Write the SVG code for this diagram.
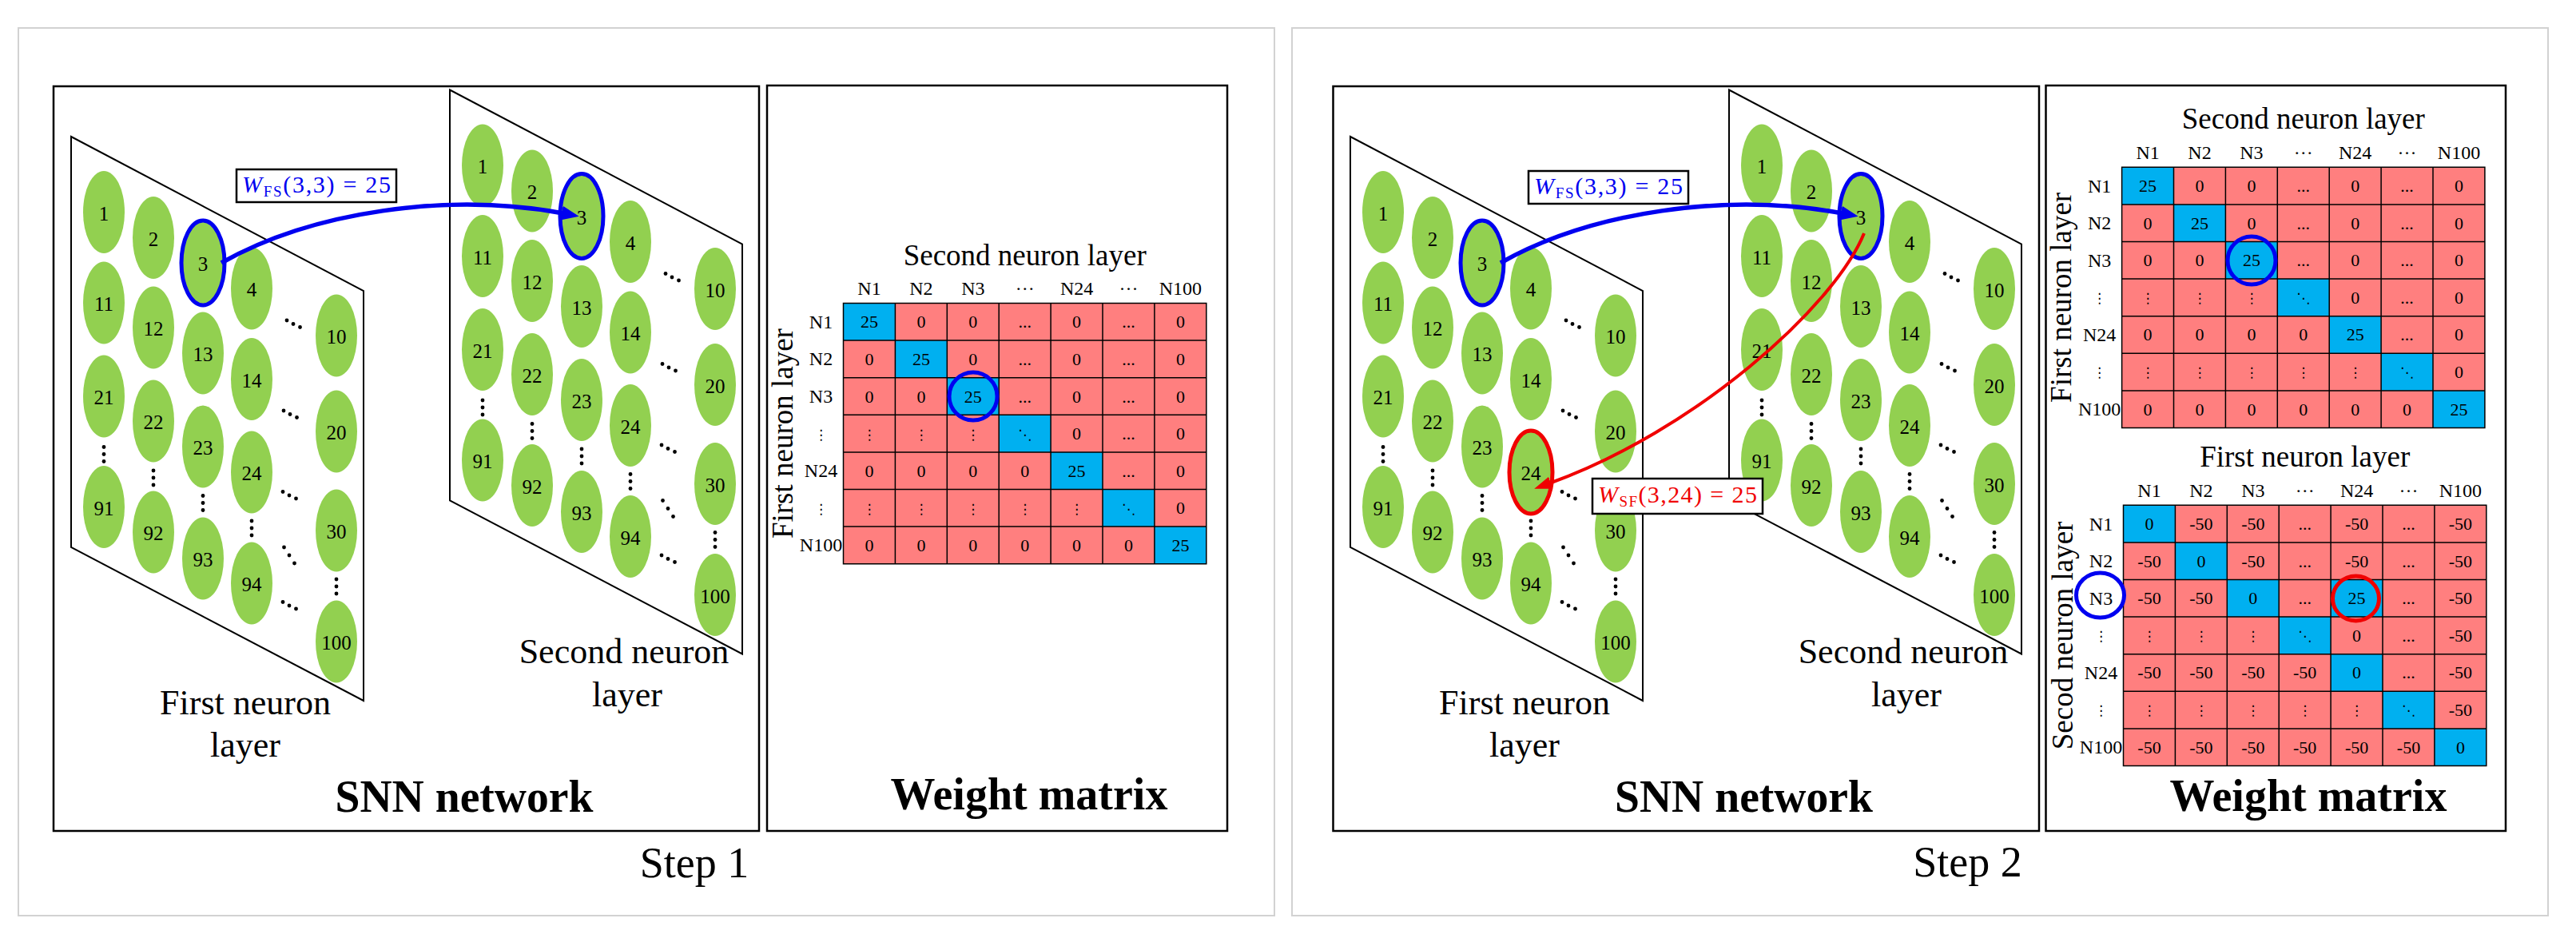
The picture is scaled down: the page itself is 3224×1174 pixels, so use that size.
<svg xmlns="http://www.w3.org/2000/svg" xmlns:xlink="http://www.w3.org/1999/xlink" width="3224" height="1174" viewBox="0 0 3224 1174">
<style>
.gray{fill:none;stroke:#d2d2d2;stroke-width:2}
.box{fill:#fff;stroke:#000;stroke-width:2.5}
.plane{fill:#fff;stroke:#000;stroke-width:2}
.n{fill:#92d050}
.nt{font-family:"Liberation Serif","Times New Roman",serif;font-size:25px;text-anchor:middle;fill:#000}
.lbl{font-family:"Liberation Serif","Times New Roman",serif;font-size:44px;text-anchor:middle}
.big{font-family:"Liberation Serif","Times New Roman",serif;font-size:56px;font-weight:bold;text-anchor:middle}
.step{font-family:"Liberation Serif","Times New Roman",serif;font-size:54px;text-anchor:middle}
.pk{fill:#ff7f7f}
.bl{fill:#00b0f0}
.grid{fill:none;stroke:#000;stroke-width:1.5}
.ct{font-family:"Liberation Serif","Times New Roman",serif;font-size:22px;text-anchor:middle}
.hd{font-family:"Liberation Serif","Times New Roman",serif;font-size:24px;text-anchor:middle}
.ttl{font-family:"Liberation Serif","Times New Roman",serif;font-size:37px;text-anchor:middle}
.dt{font-family:"DejaVu Sans",sans-serif;font-size:17px;text-anchor:middle}
.wl{font-family:"Liberation Serif","Times New Roman",serif;font-size:30px}
.hb{fill:none;stroke:#0000f0;stroke-width:5}
.hr{fill:none;stroke:#f00000;stroke-width:5}
.ab{fill:none;stroke:#0000f0;stroke-width:5.5}
.ar{fill:none;stroke:#f00000;stroke-width:4}
</style>
<defs>
<g id="vd"><circle cx="0" cy="-9" r="2.4"/><circle cx="0" cy="0" r="2.4"/><circle cx="0" cy="9" r="2.4"/></g>
<g id="dd"><circle cx="-8" cy="-4.5" r="2.4"/><circle cx="0" cy="0" r="2.4"/><circle cx="8.5" cy="4" r="2.4"/></g>
<g id="ds"><circle cx="-6.5" cy="-10" r="2.4"/><circle cx="0" cy="0" r="2.4"/><circle cx="6.5" cy="10" r="2.4"/></g>
<marker id="mb" markerUnits="userSpaceOnUse" markerWidth="26" markerHeight="20" refX="2" refY="9" orient="auto"><path d="M0,0 L22,9 L0,18 Z" fill="#0000f0"/></marker>
<marker id="mr" markerUnits="userSpaceOnUse" markerWidth="26" markerHeight="20" refX="2" refY="8" orient="auto"><path d="M0,0 L22,8 L0,16 Z" fill="#f00000"/></marker>
</defs>
<rect width="3224" height="1174" fill="#fff"/>

<!-- outer frames -->
<rect class="gray" x="23" y="35" width="1572" height="1111"/>
<rect class="gray" x="1617" y="35" width="1572" height="1111"/>

<!-- STEP 1 -->
<g id="s1-snn-box"><rect class="box" x="67" y="108" width="883" height="932"/></g>
<g id="s1-weight-box"><rect class="box" x="960" y="107" width="576" height="933"/></g>

<g id="s1-first-layer" transform="translate(89,171)">
<polygon class="plane" points="0,0 366,193 366,706 0,514"/>
<g id="p1-n1"><ellipse class="n" cx="41" cy="94.5" rx="26" ry="51.5"/><text class="nt" x="41" y="104.5">1</text></g>
<g id="p1-n11"><ellipse class="n" cx="41" cy="208" rx="26" ry="51.5"/><text class="nt" x="41" y="218">11</text></g>
<g id="p1-n21"><ellipse class="n" cx="41" cy="325" rx="26" ry="51.5"/><text class="nt" x="41" y="335">21</text></g>
<g id="p1-n91"><ellipse class="n" cx="41" cy="463.5" rx="26" ry="51.5"/><text class="nt" x="41" y="473.5">91</text></g>
<g id="p1-n2"><ellipse class="n" cx="103" cy="126.5" rx="26" ry="51.5"/><text class="nt" x="103" y="136.5">2</text></g>
<g id="p1-n12"><ellipse class="n" cx="103" cy="239" rx="26" ry="51.5"/><text class="nt" x="103" y="249">12</text></g>
<g id="p1-n22"><ellipse class="n" cx="103" cy="356" rx="26" ry="51.5"/><text class="nt" x="103" y="366">22</text></g>
<g id="p1-n92"><ellipse class="n" cx="103" cy="495" rx="26" ry="51.5"/><text class="nt" x="103" y="505">92</text></g>
<g id="p1-n3"><ellipse class="n" cx="165" cy="158" rx="26" ry="51.5"/><text class="nt" x="165" y="168">3</text></g>
<g id="p1-n13"><ellipse class="n" cx="165" cy="271" rx="26" ry="51.5"/><text class="nt" x="165" y="281">13</text></g>
<g id="p1-n23"><ellipse class="n" cx="165" cy="388" rx="26" ry="51.5"/><text class="nt" x="165" y="398">23</text></g>
<g id="p1-n93"><ellipse class="n" cx="165" cy="528" rx="26" ry="51.5"/><text class="nt" x="165" y="538">93</text></g>
<g id="p1-n4"><ellipse class="n" cx="226" cy="190" rx="26" ry="51.5"/><text class="nt" x="226" y="200">4</text></g>
<g id="p1-n14"><ellipse class="n" cx="226" cy="303.5" rx="26" ry="51.5"/><text class="nt" x="226" y="313.5">14</text></g>
<g id="p1-n24"><ellipse class="n" cx="226" cy="420" rx="26" ry="51.5"/><text class="nt" x="226" y="430">24</text></g>
<g id="p1-n94"><ellipse class="n" cx="226" cy="559" rx="26" ry="51.5"/><text class="nt" x="226" y="569">94</text></g>
<g id="p1-n10"><ellipse class="n" cx="332" cy="249" rx="26" ry="51.5"/><text class="nt" x="332" y="259">10</text></g>
<g id="p1-n20"><ellipse class="n" cx="332" cy="369" rx="26" ry="51.5"/><text class="nt" x="332" y="379">20</text></g>
<g id="p1-n30"><ellipse class="n" cx="332" cy="493" rx="26" ry="51.5"/><text class="nt" x="332" y="503">30</text></g>
<g id="p1-n100"><ellipse class="n" cx="332" cy="632" rx="26" ry="51.5"/><text class="nt" x="332" y="642">100</text></g>
<use href="#vd" x="41" y="397.5"/><use href="#vd" x="103" y="427"/><use href="#vd" x="165" y="458.5"/><use href="#vd" x="226" y="490"/><use href="#vd" x="332" y="563"/>
<use href="#dd" x="278" y="234.5"/><use href="#dd" x="274" y="347.5"/><use href="#dd" x="273" y="449"/><use href="#ds" x="273" y="524"/><use href="#dd" x="273" y="587"/>
</g>

<g id="s1-second-layer" transform="translate(563,112.5)">
<polygon class="plane" points="0,0 366,193 366,706 0,514"/>
<g id="p2-n1"><ellipse class="n" cx="41" cy="94.5" rx="26" ry="51.5"/><text class="nt" x="41" y="104.5">1</text></g>
<g id="p2-n11"><ellipse class="n" cx="41" cy="208" rx="26" ry="51.5"/><text class="nt" x="41" y="218">11</text></g>
<g id="p2-n21"><ellipse class="n" cx="41" cy="325" rx="26" ry="51.5"/><text class="nt" x="41" y="335">21</text></g>
<g id="p2-n91"><ellipse class="n" cx="41" cy="463.5" rx="26" ry="51.5"/><text class="nt" x="41" y="473.5">91</text></g>
<g id="p2-n2"><ellipse class="n" cx="103" cy="126.5" rx="26" ry="51.5"/><text class="nt" x="103" y="136.5">2</text></g>
<g id="p2-n12"><ellipse class="n" cx="103" cy="239" rx="26" ry="51.5"/><text class="nt" x="103" y="249">12</text></g>
<g id="p2-n22"><ellipse class="n" cx="103" cy="356" rx="26" ry="51.5"/><text class="nt" x="103" y="366">22</text></g>
<g id="p2-n92"><ellipse class="n" cx="103" cy="495" rx="26" ry="51.5"/><text class="nt" x="103" y="505">92</text></g>
<g id="p2-n3"><ellipse class="n" cx="165" cy="158" rx="26" ry="51.5"/><text class="nt" x="165" y="168">3</text></g>
<g id="p2-n13"><ellipse class="n" cx="165" cy="271" rx="26" ry="51.5"/><text class="nt" x="165" y="281">13</text></g>
<g id="p2-n23"><ellipse class="n" cx="165" cy="388" rx="26" ry="51.5"/><text class="nt" x="165" y="398">23</text></g>
<g id="p2-n93"><ellipse class="n" cx="165" cy="528" rx="26" ry="51.5"/><text class="nt" x="165" y="538">93</text></g>
<g id="p2-n4"><ellipse class="n" cx="226" cy="190" rx="26" ry="51.5"/><text class="nt" x="226" y="200">4</text></g>
<g id="p2-n14"><ellipse class="n" cx="226" cy="303.5" rx="26" ry="51.5"/><text class="nt" x="226" y="313.5">14</text></g>
<g id="p2-n24"><ellipse class="n" cx="226" cy="420" rx="26" ry="51.5"/><text class="nt" x="226" y="430">24</text></g>
<g id="p2-n94"><ellipse class="n" cx="226" cy="559" rx="26" ry="51.5"/><text class="nt" x="226" y="569">94</text></g>
<g id="p2-n10"><ellipse class="n" cx="332" cy="249" rx="26" ry="51.5"/><text class="nt" x="332" y="259">10</text></g>
<g id="p2-n20"><ellipse class="n" cx="332" cy="369" rx="26" ry="51.5"/><text class="nt" x="332" y="379">20</text></g>
<g id="p2-n30"><ellipse class="n" cx="332" cy="493" rx="26" ry="51.5"/><text class="nt" x="332" y="503">30</text></g>
<g id="p2-n100"><ellipse class="n" cx="332" cy="632" rx="26" ry="51.5"/><text class="nt" x="332" y="642">100</text></g>
<use href="#vd" x="41" y="397.5"/><use href="#vd" x="103" y="427"/><use href="#vd" x="165" y="458.5"/><use href="#vd" x="226" y="490"/><use href="#vd" x="332" y="563"/>
<use href="#dd" x="278" y="234.5"/><use href="#dd" x="274" y="347.5"/><use href="#dd" x="273" y="449"/><use href="#ds" x="273" y="524"/><use href="#dd" x="273" y="587"/>
</g>

<g id="s1-labels">
<text class="lbl" x="307" y="894">First neuron</text><text class="lbl" x="307" y="947">layer</text>
<text class="lbl" x="781" y="830">Second neuron</text><text class="lbl" x="785" y="884">layer</text>
<text class="big" x="581" y="1016" textLength="323" lengthAdjust="spacingAndGlyphs">SNN network</text>
<text class="big" x="1288" y="1013">Weight matrix</text>
<text class="step" x="869" y="1098">Step 1</text>
</g>

<g id="s1-matrix" transform="translate(1055.5,379.5)">
<rect class="pk" x="0" y="0" width="454.3" height="326.2"/>
<rect class="bl" x="0" y="0" width="64.9" height="46.6"/><rect class="bl" x="64.9" y="46.6" width="64.9" height="46.6"/><rect class="bl" x="129.8" y="93.2" width="64.9" height="46.6"/><rect class="bl" x="194.7" y="139.8" width="64.9" height="46.6"/><rect class="bl" x="259.6" y="186.4" width="64.9" height="46.6"/><rect class="bl" x="324.5" y="233" width="64.9" height="46.6"/><rect class="bl" x="389.4" y="279.6" width="64.9" height="46.6"/>
<path class="grid" d="M0,0H454.3V326.2H0Z M64.9,0V326.2 M129.8,0V326.2 M194.7,0V326.2 M259.6,0V326.2 M324.5,0V326.2 M389.4,0V326.2 M0,46.6H454.3 M0,93.2H454.3 M0,139.8H454.3 M0,186.4H454.3 M0,233H454.3 M0,279.6H454.3"/>
<text class="ttl" x="227.2" y="-48">Second neuron layer</text>
<text class="ttl" transform="translate(-63.5,163.1) rotate(-90)">First neuron layer</text>
<text class="hd" x="32.5" y="-10.5">N1</text><text class="hd" x="97.4" y="-10.5">N2</text><text class="hd" x="162.3" y="-10.5">N3</text><text class="hd" x="227.2" y="-10.5">···</text><text class="hd" x="292.1" y="-10.5">N24</text><text class="hd" x="357" y="-10.5">···</text><text class="hd" x="421.9" y="-10.5">N100</text>
<text class="hd" x="-28" y="31.3">N1</text><text class="hd" x="-28" y="77.9">N2</text><text class="hd" x="-28" y="124.5">N3</text><text class="dt" x="-28" y="170">⋮</text><text class="hd" x="-28" y="217.7">N24</text><text class="dt" x="-28" y="263">⋮</text><text class="hd" x="-28" y="310.9">N100</text>
<text class="ct" x="32.5" y="30.8">25</text><text class="ct" x="97.4" y="30.8">0</text><text class="ct" x="162.3" y="30.8">0</text><text class="ct" x="227.2" y="30.8">...</text><text class="ct" x="292.1" y="30.8">0</text><text class="ct" x="357" y="30.8">...</text><text class="ct" x="421.9" y="30.8">0</text>
<text class="ct" x="32.5" y="77.4">0</text><text class="ct" x="97.4" y="77.4">25</text><text class="ct" x="162.3" y="77.4">0</text><text class="ct" x="227.2" y="77.4">...</text><text class="ct" x="292.1" y="77.4">0</text><text class="ct" x="357" y="77.4">...</text><text class="ct" x="421.9" y="77.4">0</text>
<text class="ct" x="32.5" y="124">0</text><text class="ct" x="97.4" y="124">0</text><text class="ct" x="162.3" y="124">25</text><text class="ct" x="227.2" y="124">...</text><text class="ct" x="292.1" y="124">0</text><text class="ct" x="357" y="124">...</text><text class="ct" x="421.9" y="124">0</text>
<text class="dt" x="32.5" y="170">⋮</text><text class="dt" x="97.4" y="170">⋮</text><text class="dt" x="162.3" y="170">⋮</text><text class="dt" x="227.2" y="170">⋱</text><text class="ct" x="292.1" y="170.6">0</text><text class="ct" x="357" y="170.6">...</text><text class="ct" x="421.9" y="170.6">0</text>
<text class="ct" x="32.5" y="217.2">0</text><text class="ct" x="97.4" y="217.2">0</text><text class="ct" x="162.3" y="217.2">0</text><text class="ct" x="227.2" y="217.2">0</text><text class="ct" x="292.1" y="217.2">25</text><text class="ct" x="357" y="217.2">...</text><text class="ct" x="421.9" y="217.2">0</text>
<text class="dt" x="32.5" y="263">⋮</text><text class="dt" x="97.4" y="263">⋮</text><text class="dt" x="162.3" y="263">⋮</text><text class="dt" x="227.2" y="263">⋮</text><text class="dt" x="292.1" y="263">⋮</text><text class="dt" x="357" y="263">⋱</text><text class="ct" x="421.9" y="263.8">0</text>
<text class="ct" x="32.5" y="310.4">0</text><text class="ct" x="97.4" y="310.4">0</text><text class="ct" x="162.3" y="310.4">0</text><text class="ct" x="227.2" y="310.4">0</text><text class="ct" x="292.1" y="310.4">0</text><text class="ct" x="357" y="310.4">0</text><text class="ct" x="421.9" y="310.4">25</text>
<circle class="hb" cx="162.5" cy="116.5" r="30"/>
</g>

<!-- STEP 2 -->
<g id="s2-snn-box"><rect class="box" x="1668.5" y="108" width="883.5" height="932"/></g>
<g id="s2-weight-box"><rect class="box" x="2560.5" y="107" width="575.5" height="933"/></g>

<g id="s2-first-layer" transform="translate(1690,171)">
<polygon class="plane" points="0,0 366,193 366,706 0,514"/>
<g id="p3-n1"><ellipse class="n" cx="41" cy="94.5" rx="26" ry="51.5"/><text class="nt" x="41" y="104.5">1</text></g>
<g id="p3-n11"><ellipse class="n" cx="41" cy="208" rx="26" ry="51.5"/><text class="nt" x="41" y="218">11</text></g>
<g id="p3-n21"><ellipse class="n" cx="41" cy="325" rx="26" ry="51.5"/><text class="nt" x="41" y="335">21</text></g>
<g id="p3-n91"><ellipse class="n" cx="41" cy="463.5" rx="26" ry="51.5"/><text class="nt" x="41" y="473.5">91</text></g>
<g id="p3-n2"><ellipse class="n" cx="103" cy="126.5" rx="26" ry="51.5"/><text class="nt" x="103" y="136.5">2</text></g>
<g id="p3-n12"><ellipse class="n" cx="103" cy="239" rx="26" ry="51.5"/><text class="nt" x="103" y="249">12</text></g>
<g id="p3-n22"><ellipse class="n" cx="103" cy="356" rx="26" ry="51.5"/><text class="nt" x="103" y="366">22</text></g>
<g id="p3-n92"><ellipse class="n" cx="103" cy="495" rx="26" ry="51.5"/><text class="nt" x="103" y="505">92</text></g>
<g id="p3-n3"><ellipse class="n" cx="165" cy="158" rx="26" ry="51.5"/><text class="nt" x="165" y="168">3</text></g>
<g id="p3-n13"><ellipse class="n" cx="165" cy="271" rx="26" ry="51.5"/><text class="nt" x="165" y="281">13</text></g>
<g id="p3-n23"><ellipse class="n" cx="165" cy="388" rx="26" ry="51.5"/><text class="nt" x="165" y="398">23</text></g>
<g id="p3-n93"><ellipse class="n" cx="165" cy="528" rx="26" ry="51.5"/><text class="nt" x="165" y="538">93</text></g>
<g id="p3-n4"><ellipse class="n" cx="226" cy="190" rx="26" ry="51.5"/><text class="nt" x="226" y="200">4</text></g>
<g id="p3-n14"><ellipse class="n" cx="226" cy="303.5" rx="26" ry="51.5"/><text class="nt" x="226" y="313.5">14</text></g>
<g id="p3-n24"><ellipse class="n" cx="226" cy="420" rx="26" ry="51.5"/><text class="nt" x="226" y="430">24</text></g>
<g id="p3-n94"><ellipse class="n" cx="226" cy="559" rx="26" ry="51.5"/><text class="nt" x="226" y="569">94</text></g>
<g id="p3-n10"><ellipse class="n" cx="332" cy="249" rx="26" ry="51.5"/><text class="nt" x="332" y="259">10</text></g>
<g id="p3-n20"><ellipse class="n" cx="332" cy="369" rx="26" ry="51.5"/><text class="nt" x="332" y="379">20</text></g>
<g id="p3-n30"><ellipse class="n" cx="332" cy="493" rx="26" ry="51.5"/><text class="nt" x="332" y="503">30</text></g>
<g id="p3-n100"><ellipse class="n" cx="332" cy="632" rx="26" ry="51.5"/><text class="nt" x="332" y="642">100</text></g>
<use href="#vd" x="41" y="397.5"/><use href="#vd" x="103" y="427"/><use href="#vd" x="165" y="458.5"/><use href="#vd" x="226" y="490"/><use href="#vd" x="332" y="563"/>
<use href="#dd" x="278" y="234.5"/><use href="#dd" x="274" y="347.5"/><use href="#dd" x="273" y="449"/><use href="#ds" x="273" y="524"/><use href="#dd" x="273" y="587"/>
</g>

<g id="s2-second-layer" transform="translate(2164,112.5)">
<polygon class="plane" points="0,0 366,193 366,706 0,514"/>
<g id="p4-n1"><ellipse class="n" cx="41" cy="94.5" rx="26" ry="51.5"/><text class="nt" x="41" y="104.5">1</text></g>
<g id="p4-n11"><ellipse class="n" cx="41" cy="208" rx="26" ry="51.5"/><text class="nt" x="41" y="218">11</text></g>
<g id="p4-n21"><ellipse class="n" cx="41" cy="325" rx="26" ry="51.5"/><text class="nt" x="41" y="335">21</text></g>
<g id="p4-n91"><ellipse class="n" cx="41" cy="463.5" rx="26" ry="51.5"/><text class="nt" x="41" y="473.5">91</text></g>
<g id="p4-n2"><ellipse class="n" cx="103" cy="126.5" rx="26" ry="51.5"/><text class="nt" x="103" y="136.5">2</text></g>
<g id="p4-n12"><ellipse class="n" cx="103" cy="239" rx="26" ry="51.5"/><text class="nt" x="103" y="249">12</text></g>
<g id="p4-n22"><ellipse class="n" cx="103" cy="356" rx="26" ry="51.5"/><text class="nt" x="103" y="366">22</text></g>
<g id="p4-n92"><ellipse class="n" cx="103" cy="495" rx="26" ry="51.5"/><text class="nt" x="103" y="505">92</text></g>
<g id="p4-n3"><ellipse class="n" cx="165" cy="158" rx="26" ry="51.5"/><text class="nt" x="165" y="168">3</text></g>
<g id="p4-n13"><ellipse class="n" cx="165" cy="271" rx="26" ry="51.5"/><text class="nt" x="165" y="281">13</text></g>
<g id="p4-n23"><ellipse class="n" cx="165" cy="388" rx="26" ry="51.5"/><text class="nt" x="165" y="398">23</text></g>
<g id="p4-n93"><ellipse class="n" cx="165" cy="528" rx="26" ry="51.5"/><text class="nt" x="165" y="538">93</text></g>
<g id="p4-n4"><ellipse class="n" cx="226" cy="190" rx="26" ry="51.5"/><text class="nt" x="226" y="200">4</text></g>
<g id="p4-n14"><ellipse class="n" cx="226" cy="303.5" rx="26" ry="51.5"/><text class="nt" x="226" y="313.5">14</text></g>
<g id="p4-n24"><ellipse class="n" cx="226" cy="420" rx="26" ry="51.5"/><text class="nt" x="226" y="430">24</text></g>
<g id="p4-n94"><ellipse class="n" cx="226" cy="559" rx="26" ry="51.5"/><text class="nt" x="226" y="569">94</text></g>
<g id="p4-n10"><ellipse class="n" cx="332" cy="249" rx="26" ry="51.5"/><text class="nt" x="332" y="259">10</text></g>
<g id="p4-n20"><ellipse class="n" cx="332" cy="369" rx="26" ry="51.5"/><text class="nt" x="332" y="379">20</text></g>
<g id="p4-n30"><ellipse class="n" cx="332" cy="493" rx="26" ry="51.5"/><text class="nt" x="332" y="503">30</text></g>
<g id="p4-n100"><ellipse class="n" cx="332" cy="632" rx="26" ry="51.5"/><text class="nt" x="332" y="642">100</text></g>
<use href="#vd" x="41" y="397.5"/><use href="#vd" x="103" y="427"/><use href="#vd" x="165" y="458.5"/><use href="#vd" x="226" y="490"/><use href="#vd" x="332" y="563"/>
<use href="#dd" x="278" y="234.5"/><use href="#dd" x="274" y="347.5"/><use href="#dd" x="273" y="449"/><use href="#ds" x="273" y="524"/><use href="#dd" x="273" y="587"/>
</g>

<g id="s2-labels">
<text class="lbl" x="1908" y="894">First neuron</text><text class="lbl" x="1908" y="947">layer</text>
<text class="lbl" x="2382" y="830">Second neuron</text><text class="lbl" x="2386" y="884">layer</text>
<text class="big" x="2182.5" y="1016" textLength="323" lengthAdjust="spacingAndGlyphs">SNN network</text>
<text class="big" x="2889" y="1015">Weight matrix</text>
<text class="step" x="2462.5" y="1097">Step 2</text>
</g>

<g id="s2-matrix-top" transform="translate(2655.6,209.3)">
<rect class="pk" x="0" y="0" width="454.3" height="326.2"/>
<rect class="bl" x="0" y="0" width="64.9" height="46.6"/><rect class="bl" x="64.9" y="46.6" width="64.9" height="46.6"/><rect class="bl" x="129.8" y="93.2" width="64.9" height="46.6"/><rect class="bl" x="194.7" y="139.8" width="64.9" height="46.6"/><rect class="bl" x="259.6" y="186.4" width="64.9" height="46.6"/><rect class="bl" x="324.5" y="233" width="64.9" height="46.6"/><rect class="bl" x="389.4" y="279.6" width="64.9" height="46.6"/>
<path class="grid" d="M0,0H454.3V326.2H0Z M64.9,0V326.2 M129.8,0V326.2 M194.7,0V326.2 M259.6,0V326.2 M324.5,0V326.2 M389.4,0V326.2 M0,46.6H454.3 M0,93.2H454.3 M0,139.8H454.3 M0,186.4H454.3 M0,233H454.3 M0,279.6H454.3"/>
<text class="ttl" x="227.2" y="-48">Second neuron layer</text>
<text class="ttl" transform="translate(-63.5,163.1) rotate(-90)">First neuron layer</text>
<text class="hd" x="32.5" y="-10.5">N1</text><text class="hd" x="97.4" y="-10.5">N2</text><text class="hd" x="162.3" y="-10.5">N3</text><text class="hd" x="227.2" y="-10.5">···</text><text class="hd" x="292.1" y="-10.5">N24</text><text class="hd" x="357" y="-10.5">···</text><text class="hd" x="421.9" y="-10.5">N100</text>
<text class="hd" x="-28" y="31.3">N1</text><text class="hd" x="-28" y="77.9">N2</text><text class="hd" x="-28" y="124.5">N3</text><text class="dt" x="-28" y="170">⋮</text><text class="hd" x="-28" y="217.7">N24</text><text class="dt" x="-28" y="263">⋮</text><text class="hd" x="-28" y="310.9">N100</text>
<text class="ct" x="32.5" y="30.8">25</text><text class="ct" x="97.4" y="30.8">0</text><text class="ct" x="162.3" y="30.8">0</text><text class="ct" x="227.2" y="30.8">...</text><text class="ct" x="292.1" y="30.8">0</text><text class="ct" x="357" y="30.8">...</text><text class="ct" x="421.9" y="30.8">0</text>
<text class="ct" x="32.5" y="77.4">0</text><text class="ct" x="97.4" y="77.4">25</text><text class="ct" x="162.3" y="77.4">0</text><text class="ct" x="227.2" y="77.4">...</text><text class="ct" x="292.1" y="77.4">0</text><text class="ct" x="357" y="77.4">...</text><text class="ct" x="421.9" y="77.4">0</text>
<text class="ct" x="32.5" y="124">0</text><text class="ct" x="97.4" y="124">0</text><text class="ct" x="162.3" y="124">25</text><text class="ct" x="227.2" y="124">...</text><text class="ct" x="292.1" y="124">0</text><text class="ct" x="357" y="124">...</text><text class="ct" x="421.9" y="124">0</text>
<text class="dt" x="32.5" y="170">⋮</text><text class="dt" x="97.4" y="170">⋮</text><text class="dt" x="162.3" y="170">⋮</text><text class="dt" x="227.2" y="170">⋱</text><text class="ct" x="292.1" y="170.6">0</text><text class="ct" x="357" y="170.6">...</text><text class="ct" x="421.9" y="170.6">0</text>
<text class="ct" x="32.5" y="217.2">0</text><text class="ct" x="97.4" y="217.2">0</text><text class="ct" x="162.3" y="217.2">0</text><text class="ct" x="227.2" y="217.2">0</text><text class="ct" x="292.1" y="217.2">25</text><text class="ct" x="357" y="217.2">...</text><text class="ct" x="421.9" y="217.2">0</text>
<text class="dt" x="32.5" y="263">⋮</text><text class="dt" x="97.4" y="263">⋮</text><text class="dt" x="162.3" y="263">⋮</text><text class="dt" x="227.2" y="263">⋮</text><text class="dt" x="292.1" y="263">⋮</text><text class="dt" x="357" y="263">⋱</text><text class="ct" x="421.9" y="263.8">0</text>
<text class="ct" x="32.5" y="310.4">0</text><text class="ct" x="97.4" y="310.4">0</text><text class="ct" x="162.3" y="310.4">0</text><text class="ct" x="227.2" y="310.4">0</text><text class="ct" x="292.1" y="310.4">0</text><text class="ct" x="357" y="310.4">0</text><text class="ct" x="421.9" y="310.4">25</text>
<circle class="hb" cx="162.4" cy="116.7" r="30"/>
</g>

<g id="s2-matrix-bottom" transform="translate(2657.5,632.3)">
<rect class="pk" x="0" y="0" width="454.3" height="326.2"/>
<rect class="bl" x="0" y="0" width="64.9" height="46.6"/><rect class="bl" x="64.9" y="46.6" width="64.9" height="46.6"/><rect class="bl" x="129.8" y="93.2" width="64.9" height="46.6"/><rect class="bl" x="259.6" y="93.2" width="64.9" height="46.6"/><rect class="bl" x="194.7" y="139.8" width="64.9" height="46.6"/><rect class="bl" x="259.6" y="186.4" width="64.9" height="46.6"/><rect class="bl" x="324.5" y="233" width="64.9" height="46.6"/><rect class="bl" x="389.4" y="279.6" width="64.9" height="46.6"/>
<path class="grid" d="M0,0H454.3V326.2H0Z M64.9,0V326.2 M129.8,0V326.2 M194.7,0V326.2 M259.6,0V326.2 M324.5,0V326.2 M389.4,0V326.2 M0,46.6H454.3 M0,93.2H454.3 M0,139.8H454.3 M0,186.4H454.3 M0,233H454.3 M0,279.6H454.3"/>
<text class="ttl" x="227.2" y="-48.8">First neuron layer</text>
<text class="ttl" transform="translate(-63.5,163.1) rotate(-90)">Secod neuron layer</text>
<text class="hd" x="32.5" y="-10.6">N1</text><text class="hd" x="97.4" y="-10.6">N2</text><text class="hd" x="162.3" y="-10.6">N3</text><text class="hd" x="227.2" y="-10.6">···</text><text class="hd" x="292.1" y="-10.6">N24</text><text class="hd" x="357" y="-10.6">···</text><text class="hd" x="421.9" y="-10.6">N100</text>
<text class="hd" x="-28" y="31.3">N1</text><text class="hd" x="-28" y="77.9">N2</text><text class="hd" x="-28" y="124.5">N3</text><text class="dt" x="-28" y="170">⋮</text><text class="hd" x="-28" y="217.7">N24</text><text class="dt" x="-28" y="263">⋮</text><text class="hd" x="-28" y="310.9">N100</text>
<text class="ct" x="32.5" y="30.8">0</text><text class="ct" x="97.4" y="30.8">-50</text><text class="ct" x="162.3" y="30.8">-50</text><text class="ct" x="227.2" y="30.8">...</text><text class="ct" x="292.1" y="30.8">-50</text><text class="ct" x="357" y="30.8">...</text><text class="ct" x="421.9" y="30.8">-50</text>
<text class="ct" x="32.5" y="77.4">-50</text><text class="ct" x="97.4" y="77.4">0</text><text class="ct" x="162.3" y="77.4">-50</text><text class="ct" x="227.2" y="77.4">...</text><text class="ct" x="292.1" y="77.4">-50</text><text class="ct" x="357" y="77.4">...</text><text class="ct" x="421.9" y="77.4">-50</text>
<text class="ct" x="32.5" y="124">-50</text><text class="ct" x="97.4" y="124">-50</text><text class="ct" x="162.3" y="124">0</text><text class="ct" x="227.2" y="124">...</text><text class="ct" x="292.1" y="124">25</text><text class="ct" x="357" y="124">...</text><text class="ct" x="421.9" y="124">-50</text>
<text class="dt" x="32.5" y="170">⋮</text><text class="dt" x="97.4" y="170">⋮</text><text class="dt" x="162.3" y="170">⋮</text><text class="dt" x="227.2" y="170">⋱</text><text class="ct" x="292.1" y="170.6">0</text><text class="ct" x="357" y="170.6">...</text><text class="ct" x="421.9" y="170.6">-50</text>
<text class="ct" x="32.5" y="217.2">-50</text><text class="ct" x="97.4" y="217.2">-50</text><text class="ct" x="162.3" y="217.2">-50</text><text class="ct" x="227.2" y="217.2">-50</text><text class="ct" x="292.1" y="217.2">0</text><text class="ct" x="357" y="217.2">...</text><text class="ct" x="421.9" y="217.2">-50</text>
<text class="dt" x="32.5" y="263">⋮</text><text class="dt" x="97.4" y="263">⋮</text><text class="dt" x="162.3" y="263">⋮</text><text class="dt" x="227.2" y="263">⋮</text><text class="dt" x="292.1" y="263">⋮</text><text class="dt" x="357" y="263">⋱</text><text class="ct" x="421.9" y="263.8">-50</text>
<text class="ct" x="32.5" y="310.4">-50</text><text class="ct" x="97.4" y="310.4">-50</text><text class="ct" x="162.3" y="310.4">-50</text><text class="ct" x="227.2" y="310.4">-50</text><text class="ct" x="292.1" y="310.4">-50</text><text class="ct" x="357" y="310.4">-50</text><text class="ct" x="421.9" y="310.4">0</text>
<ellipse class="hb" cx="-29" cy="112.7" rx="30" ry="28"/>
<ellipse class="hr" cx="291" cy="116.7" rx="29" ry="28"/>
</g>

<!-- highlights on neurons -->
<g id="highlights">
<ellipse class="hb" cx="254" cy="329" rx="27" ry="53"/>
<ellipse class="hb" cx="728" cy="270.5" rx="27" ry="53"/>
<ellipse class="hb" cx="1855" cy="329" rx="27" ry="53"/>
<ellipse class="hb" cx="2329" cy="270.5" rx="27" ry="53"/>
<ellipse class="hr" cx="1916" cy="591" rx="27" ry="52"/>
</g>

<g id="connectors">
<path class="ab" d="M277,329 C390,265 560,240 705,267" marker-end="url(#mb)"/>
<path class="ab" d="M1878,329 C1991,265 2161,240 2306,267" marker-end="url(#mb)"/>
<path class="ar" d="M2333,292 C2295,385 2120,540 1939,605" marker-end="url(#mr)"/>
</g>

<g id="label-wfs-1">
<rect class="box" x="296" y="212" width="200" height="41"/>
<text class="wl" x="303" y="241" fill="#0000f0" textLength="186" lengthAdjust="spacing"><tspan font-style="italic">W</tspan><tspan font-size="19" dy="5">FS</tspan><tspan dy="-5">(3,3) = 25</tspan></text>
</g>
<g id="label-wfs-2">
<rect class="box" x="1913" y="214" width="200" height="41"/>
<text class="wl" x="1920" y="243" fill="#0000f0" textLength="186" lengthAdjust="spacing"><tspan font-style="italic">W</tspan><tspan font-size="19" dy="5">FS</tspan><tspan dy="-5">(3,3) = 25</tspan></text>
</g>
<g id="label-wsf-2">
<rect class="box" x="1993" y="599" width="213" height="44"/>
<text class="wl" x="2000" y="629" fill="#f00000" textLength="199" lengthAdjust="spacing"><tspan font-style="italic">W</tspan><tspan font-size="19" dy="5">SF</tspan><tspan dy="-5">(3,24) = 25</tspan></text>
</g>
</svg>
